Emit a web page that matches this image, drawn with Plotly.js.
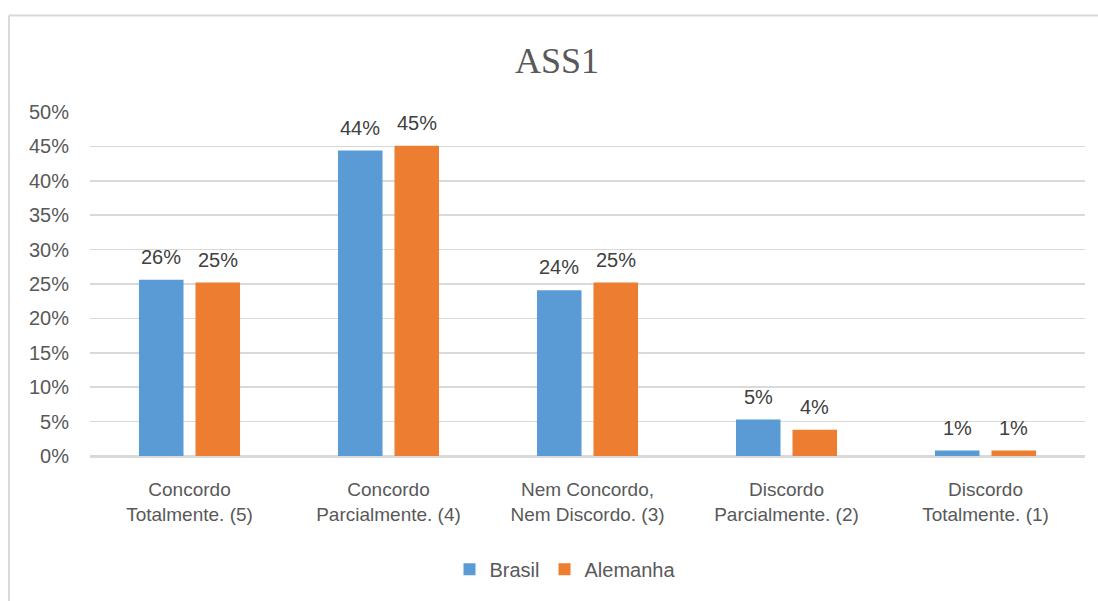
<!DOCTYPE html>
<html>
<head>
<meta charset="utf-8">
<script src="https://cdn.plot.ly/plotly-3.0.1.min.js"></script>
<style>
html,body{margin:0;padding:0;background:#fff;}
#chart{width:1098px;height:601px;}
</style>
</head>
<body>
<div id="chart"></div>
<script>
const categories = [
  "Concordo<br>Totalmente. (5)",
  "Concordo<br>Parcialmente. (4)",
  "Nem Concordo,<br>Nem Discordo. (3)",
  "Discordo<br>Parcialmente. (2)",
  "Discordo<br>Totalmente. (1)"
];
const brasil = [0.256, 0.444, 0.241, 0.053, 0.008];
const alemanha = [0.252, 0.451, 0.252, 0.038, 0.008];
const brasilLabels = ["26%", "44%", "24%", "5%", "1%"];
const alemanhaLabels = ["25%", "45%", "25%", "4%", "1%"];

const textColor = "#595959";
const labelFont = {family: "Liberation Sans, Arial, sans-serif", size: 20, color: "#404040"};

const traces = [
  {type: "bar", name: "Brasil", x: categories, y: brasil, marker: {color: "#5B9BD5"}, hoverinfo: "none"},
  {type: "bar", name: "Alemanha", x: categories, y: alemanha, marker: {color: "#ED7D31"}, hoverinfo: "none"}
];

const annotations = [];
categories.forEach((c, i) => {
  annotations.push({x: c, y: brasil[i], xref: "x", yref: "y", text: brasilLabels[i], showarrow: false,
    xanchor: "center", yanchor: "bottom", xshift: -28.25, yshift: 10, font: labelFont});
  annotations.push({x: c, y: alemanha[i], xref: "x", yref: "y", text: alemanhaLabels[i], showarrow: false,
    xanchor: "center", yanchor: "bottom", xshift: 28.25, yshift: 10, font: labelFont});
});

const L = 90, R = 13, T = 112, B = 143, W = 1098, H = 601;
const pw = W - L - R, ph = H - T - B;
const px = v => (v - L) / pw;
const py = v => (H - B - v) / ph;

const layout = {
  width: W, height: H,
  margin: {l: L, r: R, t: T, b: B},
  paper_bgcolor: "#ffffff", plot_bgcolor: "#ffffff",
  font: {family: "Liberation Sans, Arial, sans-serif", size: 19, color: textColor},
  title: {text: "ASS1", x: 557 / W, xref: "container", xanchor: "center", y: 1 - 60/H, yanchor: "middle",
    font: {family: "Liberation Serif, Times New Roman, serif", size: 36, color: textColor}},
  barmode: "group", bargap: 0.432, bargroupgap: 0.212,
  xaxis: {type: "category", showgrid: false, showline: true, linecolor: "#D9D9D9", linewidth: 1.5,
    ticks: "", ticklabelstandoff: 16, tickfont: {size: 19, color: textColor}},
  yaxis: {range: [0, 0.5], dtick: 0.05, tick0: 0, tickformat: ".0%", showgrid: true,
    gridcolor: "#D9D9D9", gridwidth: 1.5, zeroline: true, zerolinecolor: "#D9D9D9", zerolinewidth: 1.5,
    showline: false, ticks: "", ticklabelstandoff: 20, tickfont: {size: 20, color: textColor}},
  legend: {orientation: "h", x: px(565), xanchor: "center", y: py(572), yanchor: "middle",
    font: {size: 20, color: textColor}, itemwidth: 30, traceorder: "normal"},
  showlegend: true,
  annotations: annotations,
  shapes: [
    {type: "line", xref: "paper", yref: "paper", x0: px(9), x1: px(1100), y0: py(15), y1: py(15),
      line: {color: "#D9D9D9", width: 2}},
    {type: "line", xref: "paper", yref: "paper", x0: px(9), x1: px(9), y0: py(15), y1: py(610),
      line: {color: "#D9D9D9", width: 2}}
  ]
};

Plotly.newPlot("chart", traces, layout, {displayModeBar: false, staticPlot: true});
</script>
</body>
</html>
